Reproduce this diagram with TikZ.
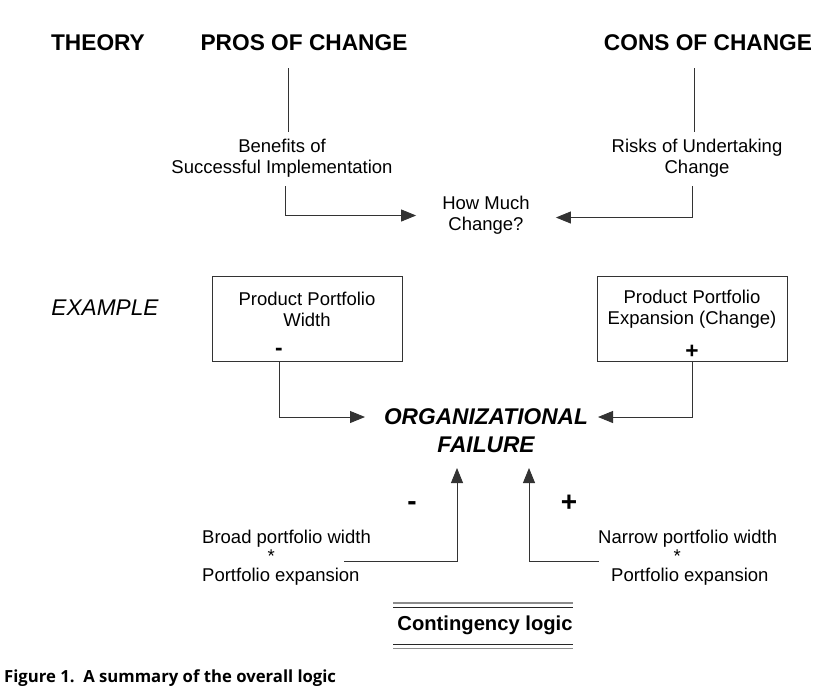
\documentclass[tikz,border=0pt]{standalone}
\usepackage{fontspec}
\setmainfont{Liberation Sans}
\newfontfamily\capfont{Open Sans}
\usetikzlibrary{arrows.meta}
\begin{document}
\begin{tikzpicture}[x=1pt,y=-1pt,
  body/.style={font=\fontsize{18.5}{21}\selectfont, inner sep=0pt, align=center},
  lefttxt/.style={font=\fontsize{18.5}{19}\selectfont, inner sep=0pt, align=left, anchor=north west},
  head/.style={font=\fontsize{22.7}{27}\selectfont\bfseries, inner sep=0pt},
  ln/.style={draw=black!80, line width=0.9pt},
  arr/.style={ln, -{Triangle[length=15pt,width=12pt]}},
  boxshape/.style={draw=black!80, line width=0.9pt, minimum width=190pt, minimum height=85pt, inner sep=0pt},
  sign/.style={font=\fontsize{22.7}{27}\selectfont\bfseries, inner sep=0pt},
  bigsign/.style={font=\fontsize{28}{32}\selectfont\bfseries, inner sep=0pt},
  orgfont/.style={font=\fontsize{22.7}{27}\selectfont\bfseries\itshape, inner sep=0pt}
]
\useasboundingbox (0,0) rectangle (840,697);
% headers
\node[head] (theory) at (98,43) {THEORY};
\node[head] (pros) at (304,43) {PROS OF CHANGE};
\node[head] (cons) at (708,43) {CONS OF CHANGE};
\coordinate (pt) at (288,68); \coordinate (pb) at (288,132);
\coordinate (ct) at (694,68); \coordinate (cb) at (694,132);
\draw[ln] (pt) -- (pb);
\draw[ln] (ct) -- (cb);
% theory level
\node[body] (ben) at (282,158) {Benefits of\\Successful Implementation};
\node[body] (risk) at (697,158) {Risks of Undertaking\\Change};
\node[body, inner xsep=26pt] (how) at (486,215.5) {How Much\\Change?};
\coordinate (bs) at (285,186);
\coordinate (rs) at (692,186);
\draw[arr] (bs) |- (how.west);
\draw[arr] (rs) |- ([yshift=-2pt]how.east);
% example level
\node[font=\fontsize{22.7}{27}\selectfont\itshape, inner sep=0pt] (ex) at (105,308) {EXAMPLE};
\node[boxshape] (lbox) at (307,318.5) {};
\node[body] (ltxt) at (307,309) {Product Portfolio\\Width};
\node[sign] (lsign) at (279,352) {-};
\node[boxshape] (rbox) at (692,318.5) {};
\node[body] (rtxt) at (692,309) {Product Portfolio\\Expansion (Change)};
\node[sign] (rsign) at (692,352) {+};
% failure
\node[orgfont] (org1) at (486,417) {ORGANIZATIONAL};
\node[orgfont] (org2) at (486,445) {FAILURE};
\coordinate (ltip) at (365,417);
\coordinate (rtip) at (598,417);
\draw[arr] (lsign |- lbox.south) |- (ltip);
\draw[arr] (rsign |- rbox.south) |- (rtip);
% contingency arrows
\coordinate (lup) at (457,468);
\coordinate (rup) at (529,468);
\coordinate (lh) at (344,561);
\coordinate (rh) at (599,561);
\draw[arr] (lh) -| (lup);
\draw[arr] (rh) -| (rup);
\node[bigsign] (minus) at (412,506) {-};
\node[bigsign] (plus) at (569,503) {+};
\node[lefttxt] (broad) at (202,530) {Broad portfolio width\\\hspace*{65.5pt}*\\Portfolio expansion};
\node[lefttxt] (narrow) at (598,530) {Narrow portfolio width\\\hspace*{75.5pt}*\\\hspace*{13pt}Portfolio expansion};
% contingency logic label
\node[font=\fontsize{20.2}{24}\selectfont\bfseries, inner sep=0pt] (cont) at (485,625) {Contingency logic};
\draw[draw=black!45, line width=1.6pt] (393,603) -- (573,603);
\draw[draw=black!85, line width=0.8pt] (393,607.5) -- (573,607.5);
\draw[draw=black!85, line width=0.8pt] (393,644) -- (573,644);
\draw[draw=black!45, line width=1.6pt] (393,648.5) -- (573,648.5);
% caption
\node[font=\capfont\bfseries\fontsize{16.7}{20}\selectfont, anchor=west, inner sep=0pt] (cap) at (4,678) {Figure 1.\ \ A summary of the overall logic};
\end{tikzpicture}
\end{document}
